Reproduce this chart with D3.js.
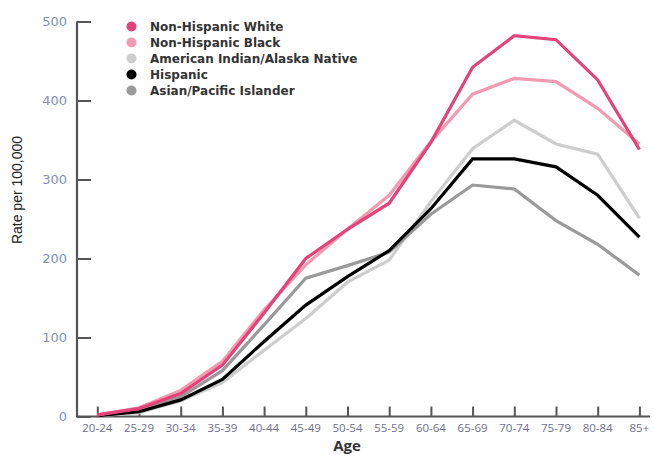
<!DOCTYPE html>
<html><head><meta charset="utf-8">
<script src="https://cdn.jsdelivr.net/npm/d3@7/dist/d3.min.js"></script>
<style>body{margin:0;background:#fff;}svg{display:block;}</style>
</head><body>
<svg id="c" width="654" height="454"></svg>
<script>
const ages = ["20-24","25-29","30-34","35-39","40-44","45-49","50-54","55-59","60-64","65-69","70-74","75-79","80-84","85+"];
const yTicks = [0,100,200,300,400,500];
const seriesNames = ["Non-Hispanic White","Non-Hispanic Black","American Indian/Alaska Native","Hispanic","Asian/Pacific Islander"];
const nhWhite = [2,10,29,65,131,200,237,270,347,442,482,477,426,338];
const nhBlack = [2,11,33,70,135,192,237,280,348,408,428,424,390,345];
const aian    = [1,5,20,43,84,124,170,198,272,339,375,345,332,251];
const hispanic= [1,6,21,47,95,141,177,210,263,326,326,316,280,227];
const asianPI = [1,7,25,58,116,175,191,208,256,293,288,248,218,179];
const colors = ["#e4437a","#f29ab1","#cdcdcd","#000000","#9a9a9a"];

const svg = d3.select("#c");
const x = d3.scalePoint().domain(ages).range([97.3,639.4]);
const y = d3.scaleLinear().domain([0,500]).range([416.5,21.5]);
const axisColor = "#555";

// y axis
const ya = svg.append("g").attr("transform","translate(77,0)")
  .call(d3.axisRight(y).tickValues(yTicks).tickSize(14).tickFormat(""));
ya.select(".domain").attr("d","M0,21.5V416.5").attr("stroke",axisColor).attr("stroke-width",2.2);
ya.selectAll(".tick line").attr("stroke",axisColor).attr("stroke-width",2);
svg.append("g").selectAll("text").data(yTicks).join("text")
  .attr("x",67).attr("y",d=>y(d)).attr("dy","0.36em").attr("text-anchor","end")
  .attr("font-family","DejaVu Sans, sans-serif").attr("font-size",13).attr("fill","#8190b6")
  .text(d=>d);

// x axis
const xa = svg.append("g").attr("transform","translate(0,416.5)")
  .call(d3.axisTop(x).tickSize(10).tickFormat(""));
xa.select(".domain").attr("d","M76,0H650").attr("stroke",axisColor).attr("stroke-width",2.2);
xa.selectAll(".tick line").attr("stroke",axisColor).attr("stroke-width",2);
svg.append("g").selectAll("text").data(ages).join("text")
  .attr("x",d=>x(d)).attr("y",432).attr("text-anchor","middle")
  .attr("font-family","Liberation Sans Narrow, Open Sans, sans-serif").attr("font-size",11.5).attr("fill","#6d6f8e")
  .text(d=>d);

svg.append("text").attr("x",347).attr("y",451).attr("text-anchor","middle")
  .attr("font-family","Open Sans, sans-serif").attr("font-weight",700).attr("font-size",15).attr("fill","#333")
  .text("Age");
svg.append("text").attr("transform","translate(22,190) rotate(-90)").attr("text-anchor","middle")
  .attr("font-family","Liberation Sans Narrow, sans-serif").attr("font-size",14).attr("fill","#222")
  .text("Rate per 100,000");

// lines (draw back to front)
const data = [nhWhite,nhBlack,aian,hispanic,asianPI];
const line = d3.line().x((d,i)=>x(ages[i])).y(d=>y(d));
const order = [2,4,3,1,0];
svg.append("g").selectAll("path").data(order).join("path")
  .attr("d",k=>line(data[k])).attr("fill","none")
  .attr("stroke",k=>colors[k]).attr("stroke-width",3.2).attr("stroke-linejoin","miter");

// legend
const lg = svg.append("g");
seriesNames.forEach((n,i)=>{
  const yy = 26.5 + i*16;
  lg.append("circle").attr("cx",131.5).attr("cy",yy).attr("r",5).attr("fill",colors[i]);
  lg.append("text").attr("x",150).attr("y",yy).attr("dy","0.36em")
    .attr("font-family","DejaVu Sans, sans-serif").attr("font-weight",700).attr("font-size",12)
    .attr("fill","#333").text(n);
});
</script>
</body></html>
